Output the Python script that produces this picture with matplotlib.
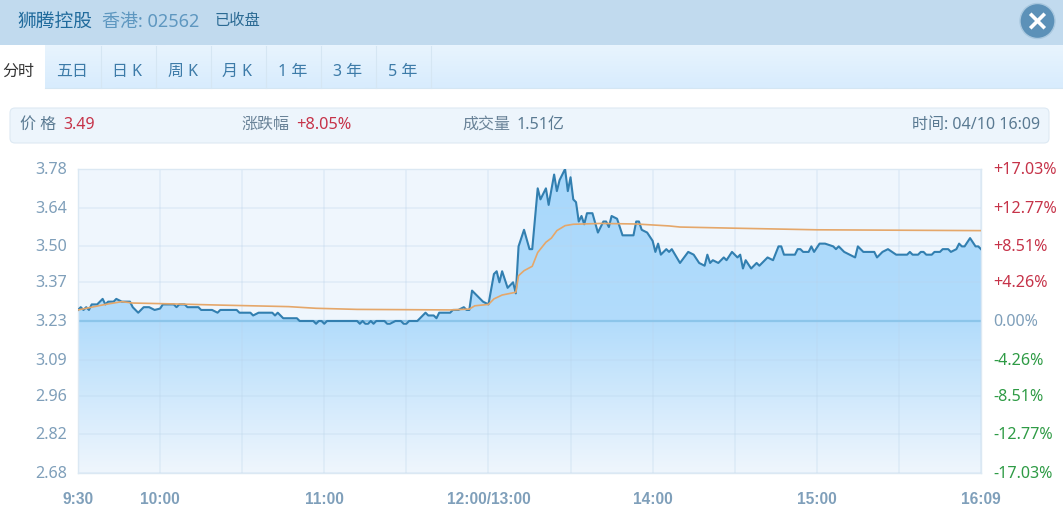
import numpy as np
import matplotlib
matplotlib.use("Agg")
import matplotlib.pyplot as plt
import matplotlib.patches as patches
from matplotlib.colors import LinearSegmentedColormap
from matplotlib.transforms import ScaledTranslation

plt.rcParams['font.family'] = ['Noto Sans', 'Noto Sans CJK SC', 'DejaVu Sans']

# minutes since 9:30 on the axis, prices
minutes = [0, 1, 2, 3, 4, 5, 7, 9, 10, 11, 13, 14, 16, 19, 20, 22, 24, 26, 28, 30, 31, 35, 36, 37, 39, 40,
           44, 45, 49, 51, 52, 58, 59, 63, 64, 66, 71, 72, 73, 75, 80, 81, 86, 87, 88, 89, 90, 91,
           102, 103, 104, 105, 106, 107, 108, 109, 112, 113, 114, 116, 118, 119, 120, 121, 124, 125,
           127, 128, 130, 131, 132, 136, 137, 139, 141, 142, 143, 144, 146, 147, 148, 150, 152, 153,
           154, 155, 157, 159, 160, 161, 163, 165, 166, 168, 169, 171, 172, 174, 175, 176, 178, 179,
           180, 181, 182, 183, 184, 185, 186, 188, 190, 192, 193, 194, 195, 197, 199, 203, 204, 205,
           206, 208, 210, 211, 212, 213, 215, 216, 217, 220, 223, 225, 227, 229, 230, 231, 232, 234,
           236, 237, 239, 241, 242, 243, 244, 246, 248, 249, 252, 254, 256, 257, 258, 262, 263, 264,
           265, 267, 268, 269, 271, 273, 276, 277, 278, 280, 284, 285, 287, 291, 292, 294, 296, 299,
           303, 304, 305, 307, 308, 309, 310, 312, 313, 315, 316, 318, 319, 321, 322, 323, 324, 326,
           328, 329, 330]
prices = [3.27, 3.28, 3.27, 3.28, 3.27, 3.29, 3.29, 3.31, 3.29, 3.30, 3.30, 3.31, 3.30, 3.30, 3.28, 3.26,
          3.28, 3.28, 3.27, 3.275, 3.29, 3.29, 3.28, 3.29, 3.29, 3.28, 3.28, 3.27, 3.27, 3.26, 3.27, 3.27,
          3.26, 3.26, 3.25, 3.26, 3.26, 3.25, 3.26, 3.24, 3.24, 3.23, 3.23, 3.22, 3.23, 3.23, 3.22, 3.23,
          3.23, 3.22, 3.23, 3.22, 3.22, 3.23, 3.22, 3.23, 3.23, 3.22, 3.22, 3.23, 3.23, 3.22, 3.22, 3.23,
          3.23, 3.24, 3.26, 3.25, 3.25, 3.24, 3.26, 3.26, 3.27, 3.27, 3.28, 3.27, 3.27, 3.34, 3.32, 3.31,
          3.30, 3.29, 3.40, 3.41, 3.37, 3.41, 3.35, 3.37, 3.33, 3.50, 3.56, 3.49, 3.49, 3.71, 3.67, 3.71,
          3.65, 3.76, 3.70, 3.74, 3.78, 3.70, 3.75, 3.67, 3.66, 3.59, 3.61, 3.58, 3.62, 3.62, 3.55, 3.59,
          3.59, 3.57, 3.61, 3.60, 3.54, 3.54, 3.59, 3.59, 3.56, 3.55, 3.52, 3.48, 3.51, 3.47, 3.49, 3.48,
          3.49, 3.44, 3.48, 3.47, 3.44, 3.43, 3.47, 3.44, 3.45, 3.44, 3.46, 3.45, 3.48, 3.46, 3.47, 3.42,
          3.45, 3.42, 3.44, 3.43, 3.46, 3.45, 3.50, 3.50, 3.47, 3.47, 3.49, 3.49, 3.48, 3.48, 3.50, 3.48,
          3.51, 3.51, 3.50, 3.49, 3.50, 3.48, 3.46, 3.50, 3.48, 3.48, 3.46, 3.48, 3.49, 3.47, 3.47, 3.48,
          3.47, 3.47, 3.48, 3.48, 3.47, 3.47, 3.48, 3.48, 3.49, 3.49, 3.48, 3.49, 3.51, 3.50, 3.50, 3.53,
          3.50, 3.50, 3.49]

avg_minutes = [0, 5, 10, 16, 20, 34, 50, 77, 87, 102, 120, 136, 143, 145, 150, 152, 155, 160, 161, 163, 166,
               168, 171, 173, 175, 178, 181, 191, 204, 216, 220, 239, 270, 330]
avg_prices = [3.27, 3.28, 3.29, 3.30, 3.295, 3.292, 3.288, 3.282, 3.276, 3.272, 3.271, 3.27, 3.273, 3.285,
              3.29, 3.31, 3.324, 3.334, 3.394, 3.412, 3.428, 3.478, 3.515, 3.53, 3.557, 3.575, 3.58, 3.583,
              3.581, 3.574, 3.57, 3.566, 3.56, 3.557]

price_ticks = [3.78, 3.64, 3.50, 3.37, 3.23, 3.09, 2.96, 2.82, 2.68]
pct_labels = ["+17.03%", "+12.77%", "+8.51%", "+4.26%", "0.00%", "-4.26%", "-8.51%", "-12.77%", "-17.03%"]
pct_colors = ["#c63349"] * 4 + ["#7f9fba"] + ["#2e9b45"] * 4
time_ticks = [0, 30, 90, 150, 210, 270, 330]
time_labels = ["9:30", "10:00", "11:00", "12:00/13:00", "14:00", "15:00", "16:09"]
tab_labels = ["五日", "日 K", "周 K", "月 K", "1 年", "3 年", "5 年"]

fig = plt.figure(figsize=(10.63, 5.10), dpi=100, facecolor="white")

# page parts around the chart, laid out in pixels
page = fig.add_axes([0, 0, 1, 1])
page.axis("off")

page.add_patch(patches.Rectangle((0, 0), 1063, 46, color="#c1daee", lw=0))
tab_fade = LinearSegmentedColormap.from_list("tabs", ["#e8f4fe", "#d8ecfd"])
page.imshow(np.linspace(0, 1, 40).reshape(-1, 1), extent=(0, 1063, 89, 46), aspect="auto", zorder=1, cmap=tab_fade)
page.set_xlim(0, 1063)
page.set_ylim(510, 0)
page.add_patch(patches.Rectangle((0, 46), 45, 44, color="white", lw=0, zorder=2))
page.plot([45, 1063], [89, 89], color="#d4e6f3", lw=0.8, zorder=2)
for x in [100, 155, 210, 265, 320, 375, 430]:
    page.plot([x + 0.5, x + 0.5], [47, 89], color="#d5e6f3", lw=0.8, zorder=2)

page.text(17, 21.5, "狮腾控股", fontsize=13.5, color="#1f6a9c", va="center", zorder=3)
page.text(102, 21.5, "香港: 02562", fontsize=13, color="#5e97c0", va="center", zorder=3)
page.text(215, 21.5, "已收盘", fontsize=11, color="#2b6a93", va="center", zorder=3)

page.add_patch(patches.Circle((1037.5, 22), 17.5, facecolor="#5c91b8", edgecolor="#a9c8df", lw=1, zorder=3))
page.plot([1031.5, 1043.5], [16, 28], color="white", lw=2.6, zorder=4)
page.plot([1031.5, 1043.5], [28, 16], color="white", lw=2.6, zorder=4)

page.text(18, 72, "分时", fontsize=11.5, color="#333333", ha="center", va="center", zorder=3)
for i, lab in enumerate(tab_labels):
    page.text(72.5 + i * 55, 72, lab, fontsize=11.5, color="#3d7ba8", ha="center", va="center", zorder=3)

page.add_patch(patches.FancyBboxPatch((10, 109), 1039, 35, boxstyle="round,pad=0,rounding_size=5",
                                      facecolor="#edf5fc", edgecolor="#dde9f3", lw=0.8, zorder=2))
page.text(20, 125, "价 格", fontsize=11.5, color="#5a7a92", va="center", zorder=3)
page.text(63, 125, "3.49", fontsize=11.5, color="#c63349", va="center", zorder=3)
page.text(241, 125, "涨跌幅", fontsize=11.5, color="#6a8398", va="center", zorder=3)
page.text(296, 125, "+8.05%", fontsize=11.8, color="#c63349", va="center", zorder=3)
page.text(462, 125, "成交量", fontsize=11.5, color="#6a8398", va="center", zorder=3)
page.text(517, 125, "1.51亿", fontsize=11.5, color="#5a7a92", va="center", zorder=3)
page.text(1040, 125, "时间: 04/10 16:09", fontsize=11.5, color="#5a7a92", ha="right", va="center", zorder=3)

# chart
ax = fig.add_axes([78 / 1063, (510 - 474) / 510, 903 / 1063, 304 / 510])
ax.set_facecolor("#eff6fd")

area = ax.fill_between(minutes, prices, 2.68, color="none", lw=0)
fade = LinearSegmentedColormap.from_list("fade", ["#eff6fd", "#b2dcfb", "#a8d8fc"])
im = ax.imshow(np.linspace(0, 1, 256).reshape(-1, 1), extent=(0, 330, 2.68, 3.78), aspect="auto",
               origin="lower", cmap=fade, zorder=1)
im.set_clip_path(area.get_paths()[0], transform=ax.transData)
ax.set_xlim(0, 330)
ax.set_ylim(2.68, 3.78)

ax.set_yticks(price_ticks)
ax.set_xticks(time_ticks, labels=time_labels)
ax.set_xticks(np.arange(0, 331, 30), minor=True)
ax.set_axisbelow("line")
ax.grid(True, axis="y", color="#b9d3ea", alpha=0.28, lw=1.2)
ax.grid(True, which="both", axis="x", color="#b9d3ea", alpha=0.28, lw=1.2)

ax.axhline(3.23, color="#8cc5ea", lw=1.6, zorder=2)
ax.plot(minutes, prices, color="#327fb0", lw=1.5, zorder=3)
ax.plot(avg_minutes, avg_prices, color="#e5a76a", lw=1.2, zorder=4)

for side in ax.spines.values():
    side.set_color("#dbe8f3")
    side.set_linewidth(1)

ax.tick_params(axis="both", which="both", length=0)
ax.tick_params(axis="x", pad=13, labelsize=11.2, labelcolor="#7f9fba")
ax.tick_params(axis="y", pad=8, labelsize=11.6, labelcolor="#7f9fba")
for lab in ax.get_xticklabels():
    lab.set_fontfamily("Liberation Sans")
    lab.set_fontweight("bold")

right = ax.twinx()
right.set_ylim(2.68, 3.78)
right.set_yticks(price_ticks, labels=pct_labels)
right.tick_params(axis="y", length=0, pad=9, labelsize=11.6)
for lab, col in zip(right.get_yticklabels(), pct_colors):
    lab.set_color(col)
for side in right.spines.values():
    side.set_visible(False)

shift = ScaledTranslation(0, 2 / 100, fig.dpi_scale_trans)
for lab in ax.get_yticklabels() + right.get_yticklabels():
    lab.set_transform(lab.get_transform() + shift)

fig.savefig("out.png", dpi=100)
